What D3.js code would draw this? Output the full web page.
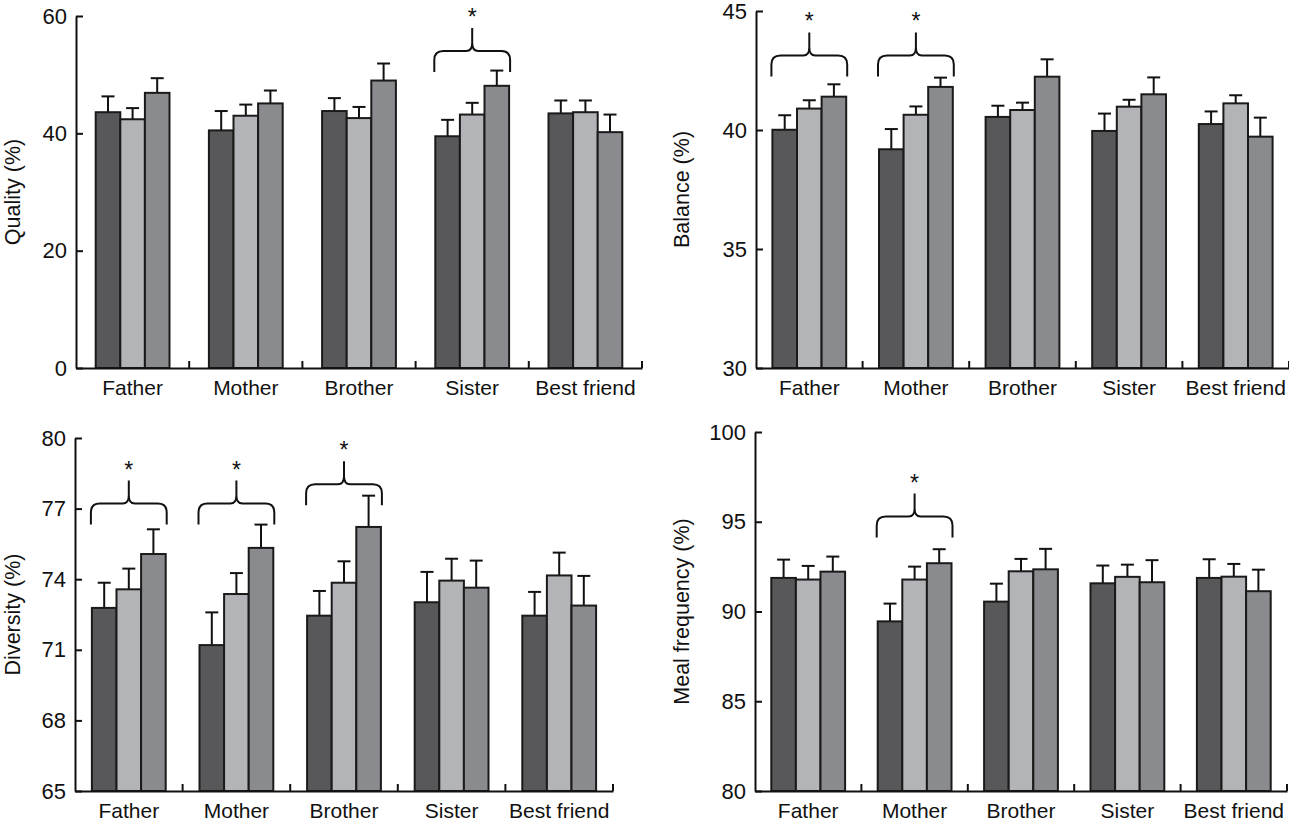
<!DOCTYPE html>
<html>
<head>
<meta charset="utf-8">
<script src="https://cdn.jsdelivr.net/npm/d3@7"></script>
<style>
  body { margin: 0; background: #fff; }
  svg { display: block; font-family: "Liberation Sans", Arial, sans-serif; }
</style>
</head>
<body>
<script>
// four panels of grouped bars, three series each, mean + upper SE
const categories = ["Father", "Mother", "Brother", "Sister", "Best friend"];
const seriesNames = ["dark", "light", "mid"];
const seriesColors = ["#58585b", "#b3b4b7", "#8a8b8f"];

const qualityMean = [[43.6, 40.5, 43.8, 39.5, 43.4], [42.4, 43.0, 42.6, 43.2, 43.6], [46.9, 45.1, 49.0, 48.1, 40.2]];
const qualitySE   = [[2.7, 3.3, 2.2, 2.8, 2.2], [1.9, 1.9, 1.9, 2.0, 2.0], [2.5, 2.2, 2.9, 2.6, 3.0]];
const qualityTicks = [0, 20, 40, 60];

const balanceMean = [[40.01, 39.19, 40.55, 39.96, 40.25], [40.90, 40.64, 40.84, 40.98, 41.12], [41.40, 41.81, 42.24, 41.50, 39.72]];
const balanceSE   = [[0.61, 0.85, 0.47, 0.73, 0.53], [0.35, 0.35, 0.31, 0.29, 0.34], [0.52, 0.39, 0.73, 0.71, 0.80]];
const balanceTicks = [30, 35, 40, 45];

const diversityMean = [[72.78, 71.20, 72.45, 73.02, 72.45], [73.57, 73.37, 73.85, 73.94, 74.16], [75.07, 75.33, 76.22, 73.64, 72.88]];
const diversitySE   = [[1.07, 1.39, 1.05, 1.29, 1.01], [0.88, 0.89, 0.91, 0.93, 0.97], [1.05, 0.99, 1.33, 1.15, 1.26]];
const diversityTicks = [65, 68, 71, 74, 77, 80];

const mealMean = [[91.87, 89.45, 90.55, 91.57, 91.87], [91.78, 91.78, 92.24, 91.93, 91.94], [92.22, 92.69, 92.35, 91.63, 91.13]];
const mealSE   = [[1.02, 0.99, 1.00, 0.99, 1.04], [0.76, 0.72, 0.69, 0.68, 0.71], [0.84, 0.78, 1.14, 1.23, 1.20]];
const mealTicks = [80, 85, 90, 95, 100];

// significance braces: category and the value where the brace feet sit
const qualitySig = [{cat: "Sister", at: 50.45}];
const balanceSig = [{cat: "Father", at: 42.25}, {cat: "Mother", at: 42.25}];
const diversitySig = [{cat: "Father", at: 76.32}, {cat: "Mother", at: 76.32}, {cat: "Brother", at: 77.14}];
const mealSig = [{cat: "Mother", at: 94.12}];

const panels = [
  {title: "Quality (%)", mean: qualityMean, se: qualitySE, ticks: qualityTicks, sig: qualitySig,
   x0: 76, x1: 642, yTop: 16, yBot: 368, titleX: 13},
  {title: "Balance (%)", mean: balanceMean, se: balanceSE, ticks: balanceTicks, sig: balanceSig,
   x0: 756, x1: 1289, yTop: 11, yBot: 368, titleX: 682},
  {title: "Diversity (%)", mean: diversityMean, se: diversitySE, ticks: diversityTicks, sig: diversitySig,
   x0: 75, x1: 613, yTop: 438, yBot: 791, titleX: 13},
  {title: "Meal frequency (%)", mean: mealMean, se: mealSE, ticks: mealTicks, sig: mealSig,
   x0: 755, x1: 1287, yTop: 432, yBot: 791, titleX: 682}
];

const svg = d3.select("body").append("svg")
  .attr("width", 1289)
  .attr("height", 825);

const barW = 24.6;
const fontFam = "Liberation Sans, Arial, sans-serif";

panels.forEach(p => {
  const g = svg.append("g");
  const x = d3.scaleBand().domain(categories).range([p.x0, p.x1]);
  const y = d3.scaleLinear().domain([p.ticks[0], p.ticks[p.ticks.length - 1]]).range([p.yBot, p.yTop]);
  const sub = d3.scaleBand().domain(seriesNames).range([-1.5 * barW, 1.5 * barW]);

  // bars + error bars
  seriesNames.forEach((s, si) => {
    const rows = categories.map((c, ci) => ({c, m: p.mean[si][ci], e: p.se[si][ci]}));
    const bx = d => x(d.c) + x.bandwidth() / 2 + sub(s);

    g.selectAll(null).data(rows).enter().append("line")
      .attr("x1", d => bx(d) + barW / 2).attr("x2", d => bx(d) + barW / 2)
      .attr("y1", d => y(d.m)).attr("y2", d => y(d.m + d.e))
      .attr("stroke", "#111").attr("stroke-width", 2);
    g.selectAll(null).data(rows).enter().append("line")
      .attr("x1", d => bx(d) + barW / 2 - 6.5).attr("x2", d => bx(d) + barW / 2 + 6.5)
      .attr("y1", d => y(d.m + d.e)).attr("y2", d => y(d.m + d.e))
      .attr("stroke", "#111").attr("stroke-width", 2);

    g.selectAll(null).data(rows).enter().append("rect")
      .attr("x", bx)
      .attr("y", d => y(d.m))
      .attr("width", barW)
      .attr("height", d => y(p.ticks[0]) - y(d.m))
      .attr("fill", seriesColors[si])
      .attr("stroke", "#1a1a1a")
      .attr("stroke-width", 2);
  });

  // y axis, ticks pointing inward
  const yAx = g.append("g")
    .attr("transform", `translate(${p.x0},0)`)
    .call(d3.axisLeft(y).tickValues(p.ticks).tickSize(-7).tickSizeOuter(0).tickPadding(9));
  yAx.selectAll("path, line").attr("stroke", "#111").attr("stroke-width", 2);
  yAx.selectAll("text").attr("font-size", 22).attr("font-family", fontFam).attr("fill", "#111");

  // x axis: baseline, labels centred, small up ticks at band edges
  const xAx = g.append("g")
    .attr("transform", `translate(0,${p.yBot})`)
    .call(d3.axisBottom(x).tickSize(0).tickSizeOuter(0).tickPadding(12));
  xAx.select("path").attr("stroke", "#111").attr("stroke-width", 2);
  xAx.selectAll("text").attr("font-size", 21).attr("font-family", fontFam).attr("fill", "#111");

  g.selectAll(null).data(categories).enter().append("line")
    .attr("x1", c => x(c) + x.bandwidth()).attr("x2", c => x(c) + x.bandwidth())
    .attr("y1", p.yBot).attr("y2", p.yBot - 7)
    .attr("stroke", "#111").attr("stroke-width", 2);

  // y title
  g.append("text")
    .attr("transform", `translate(${p.titleX},${(p.yTop + p.yBot) / 2}) rotate(-90)`)
    .attr("text-anchor", "middle")
    .attr("dominant-baseline", "central")
    .attr("font-size", 21.5)
    .attr("fill", "#111")
    .text(p.title);

  // braces with a star
  p.sig.forEach(s => {
    const left = x(s.cat) + x.bandwidth() / 2 + sub("dark") - 1;
    const right = x(s.cat) + x.bandwidth() / 2 + sub("mid") + barW + 1;
    const mid = (left + right) / 2;
    const yb = y(s.at), yh = yb - 21, yp = yh - 23;
    const path = `M${left},${yb} L${left},${yh + 9} Q${left},${yh} ${left + 9},${yh}
      L${mid - 6},${yh} Q${mid},${yh} ${mid},${yh - 8} L${mid},${yp}
      M${mid},${yh - 8} Q${mid},${yh} ${mid + 6},${yh}
      L${right - 9},${yh} Q${right},${yh} ${right},${yh + 9} L${right},${yb}`;
    g.append("path").attr("d", path).attr("fill", "none")
      .attr("stroke", "#111").attr("stroke-width", 2);
    g.append("text")
      .attr("x", mid).attr("y", yp - 3)
      .attr("text-anchor", "middle")
      .attr("font-size", 23)
      .attr("fill", "#111")
      .text("*");
  });
});
</script>
</body>
</html>
